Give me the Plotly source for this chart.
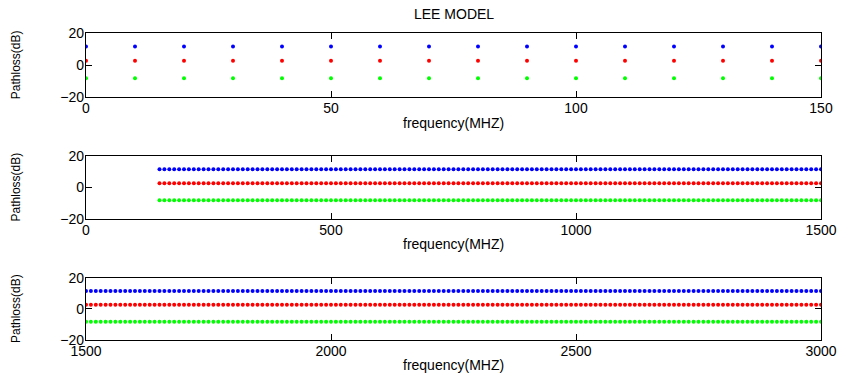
import plotly.graph_objects as go

# Data
freq_top = list(range(0, 151, 10))
freq_mid = list(range(150, 1501, 10))
freq_bot = list(range(1500, 3001, 10))
level_blue = 11.5
level_red = 2.6
level_green = -8.3
series = [("blue", level_blue, "#0000ff"), ("red", level_red, "#ff0000"), ("green", level_green, "#00ff00")]
x_ranges = [(0, 150), (0, 1500), (1500, 3000)]
x_ticks = [[0, 50, 100, 150], [0, 500, 1000, 1500], [1500, 2000, 2500, 3000]]
y_ticks = [-20, 0, 20]
freqs = [freq_top, freq_mid, freq_bot]

FONT = "Liberation Sans, Arial, sans-serif"

fig = go.Figure()
domains = [[0.7915, 1.0], [0.395, 0.600], [0.0, 0.203]]
for i in range(3):
    xa = "x" if i == 0 else f"x{i+1}"
    ya = "y" if i == 0 else f"y{i+1}"
    for name, lvl, col in series:
        fig.add_trace(go.Scatter(
            x=freqs[i], y=[lvl] * len(freqs[i]), mode="markers",
            marker=dict(color=col, size=4, line=dict(width=0)),
            xaxis=xa, yaxis=ya, showlegend=False, name=name))
    axis_common = dict(showgrid=False, zeroline=False, showline=True, linecolor="black",
                       linewidth=1.3, mirror="ticks", ticks="inside", ticklen=6,
                       tickcolor="black", tickwidth=1, automargin=False,
                       tickfont=dict(family=FONT, size=14, color="black"))
    fig.layout[f"xaxis{'' if i == 0 else i+1}"] = dict(
        range=list(x_ranges[i]), tickvals=x_ticks[i], anchor=ya,
        domain=[0, 1], ticklabelstandoff=-2, **axis_common)
    fig.layout[f"yaxis{'' if i == 0 else i+1}"] = dict(
        range=[-20, 20], tickvals=y_ticks, anchor=xa, domain=domains[i],
        ticklabelstandoff=-2, **axis_common)
    fig.add_annotation(text="frequency(MHZ)", xref=f"{xa} domain", yref=f"{ya} domain",
                       x=0.5, y=-0.40, yanchor="middle", showarrow=False,
                       font=dict(family=FONT, size=14, color="black"))
    fig.add_annotation(text="Pathloss(dB)", xref="paper", yref=f"{ya} domain",
                       x=-0.095, y=0.5, xanchor="center", yanchor="middle", textangle=-90,
                       showarrow=False, font=dict(family=FONT, size=12, color="black"))

fig.add_annotation(text="LEE MODEL", xref="paper", yref="paper", x=0.5, y=1.0,
                   yshift=19, yanchor="middle", showarrow=False,
                   font=dict(family=FONT, size=14, color="black"))

fig.update_layout(width=845, height=374, margin=dict(l=86, r=24, t=33, b=34, autoexpand=False),
                  plot_bgcolor="white", paper_bgcolor="white")
fig.write_html("out.html", config={"displayModeBar": False},
               post_script="document.body.style.margin='0';document.body.style.overflow='hidden';")
